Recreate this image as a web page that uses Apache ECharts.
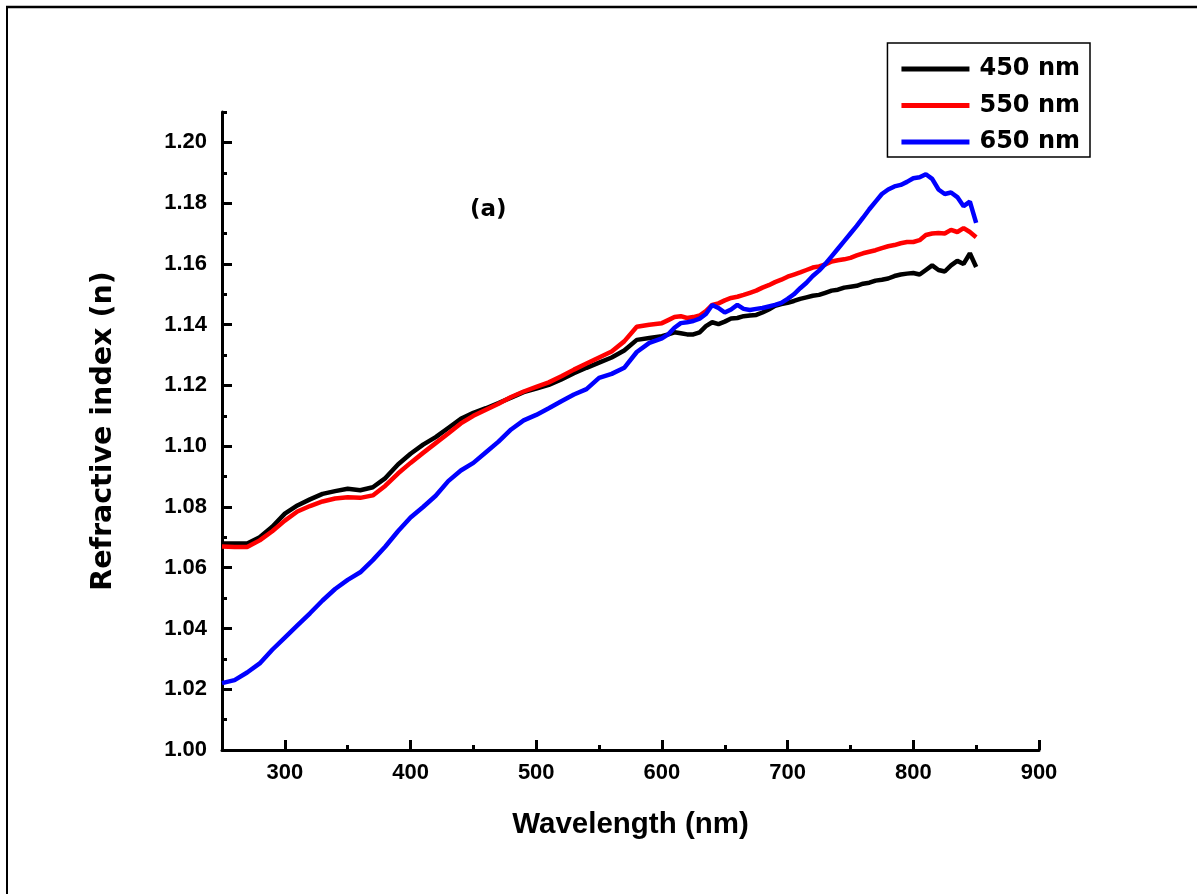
<!DOCTYPE html>
<html>
<head>
<meta charset="utf-8">
<script src="https://cdn.jsdelivr.net/npm/echarts@6/dist/echarts.min.js"></script>
<style>
  html, body { margin: 0; padding: 0; background: #fff; }
  #container { width: 1197px; height: 894px; }
</style>
</head>
<body>
<div id="container"></div>
<script>
// wavelength (nm): 10 nm steps up to 600, then 5 nm steps
var wavelength = [
  250, 260, 270, 280, 290, 300, 310, 320, 330, 340, 350, 360, 370, 380, 390, 400,
  410, 420, 430, 440, 450, 460, 470, 480, 490, 500, 510, 520, 530, 540, 550, 560,
  570, 580, 590, 600,
  605, 610, 615, 620, 625, 630, 635, 640, 645, 650, 655, 660, 665, 670, 675, 680,
  685, 690, 695, 700, 705, 710, 715, 720, 725, 730, 735, 740, 745, 750, 755, 760,
  765, 770, 775, 780, 785, 790, 795, 800, 805, 810, 815, 820, 825, 830, 835, 840,
  845, 850
];

var n450 = [
  1.0680, 1.0680, 1.0680, 1.0700, 1.0735, 1.0778, 1.0805, 1.0825, 1.0843, 1.0852,
  1.0860, 1.0855, 1.0865, 1.0895, 1.0940, 1.0975, 1.1005, 1.1030, 1.1060, 1.1090,
  1.1110, 1.1125, 1.1142, 1.1160, 1.1178, 1.1190, 1.1202, 1.1220, 1.1240, 1.1258,
  1.1275, 1.1292, 1.1315, 1.1350, 1.1356, 1.1362,
  1.1368, 1.1375, 1.1372, 1.1368, 1.1368, 1.1375, 1.1395, 1.1408, 1.1402, 1.1410,
  1.1420, 1.1422, 1.1428, 1.1430, 1.1432, 1.1440, 1.1450, 1.1462, 1.1468, 1.1472,
  1.1478, 1.1485, 1.1490, 1.1495, 1.1498, 1.1505, 1.1512, 1.1515, 1.1522, 1.1525,
  1.1528, 1.1535, 1.1538, 1.1545, 1.1548, 1.1552, 1.1560, 1.1565, 1.1568, 1.1570,
  1.1565, 1.1580, 1.1595, 1.1580, 1.1575, 1.1595, 1.1610, 1.1600, 1.1635, 1.1590
];

var n550 = [
  1.0670, 1.0668, 1.0668, 1.0690, 1.0720, 1.0755, 1.0785, 1.0803, 1.0818, 1.0828,
  1.0832, 1.0830, 1.0838, 1.0870, 1.0910, 1.0945, 1.0978, 1.1010, 1.1042, 1.1075,
  1.1100, 1.1120, 1.1140, 1.1162, 1.1180, 1.1195, 1.1210, 1.1230, 1.1252, 1.1272,
  1.1292, 1.1312, 1.1345, 1.1393, 1.1400, 1.1405,
  1.1415, 1.1425, 1.1428, 1.1422, 1.1425, 1.1430, 1.1445, 1.1465, 1.1470, 1.1480,
  1.1488, 1.1492, 1.1498, 1.1505, 1.1512, 1.1522, 1.1530, 1.1540, 1.1548, 1.1558,
  1.1565, 1.1572, 1.1580, 1.1588, 1.1592, 1.1598, 1.1608, 1.1612, 1.1615, 1.1620,
  1.1628, 1.1635, 1.1640, 1.1645, 1.1652, 1.1658, 1.1662, 1.1668, 1.1672, 1.1672,
  1.1678, 1.1695, 1.1700, 1.1702, 1.1700, 1.1712, 1.1705, 1.1718, 1.1705, 1.1688
];

var n650 = [
  1.0220, 1.0230, 1.0255, 1.0285, 1.0330, 1.0370, 1.0410, 1.0450, 1.0492, 1.0530,
  1.0560, 1.0585, 1.0625, 1.0670, 1.0720, 1.0765, 1.0800, 1.0837, 1.0885, 1.0920,
  1.0945, 1.0980, 1.1015, 1.1055, 1.1085, 1.1103, 1.1125, 1.1148, 1.1170, 1.1188,
  1.1225, 1.1238, 1.1258, 1.1310, 1.1340, 1.1355,
  1.1368, 1.1390, 1.1405, 1.1408, 1.1412, 1.1420, 1.1435, 1.1465, 1.1455, 1.1440,
  1.1450, 1.1465, 1.1452, 1.1448, 1.1452, 1.1455, 1.1460, 1.1465, 1.1472, 1.1485,
  1.1500, 1.1520, 1.1538, 1.1560, 1.1578, 1.1600, 1.1625, 1.1650, 1.1675, 1.1700,
  1.1725, 1.1752, 1.1780, 1.1805, 1.1830, 1.1845, 1.1855, 1.1860, 1.1870, 1.1882,
  1.1885, 1.1895, 1.1880, 1.1845, 1.1830, 1.1835, 1.1820, 1.1790, 1.1805, 1.1735
];

var seriesNames = ['450 nm', '550 nm', '650 nm'];
var seriesColors = ['#000000', '#ff0000', '#0000ff'];

var xMajorTicks = [300, 400, 500, 600, 700, 800, 900];
var xMinorTicks = [350, 450, 550, 650, 750, 850];
var yMajorTicks = [1.00, 1.02, 1.04, 1.06, 1.08, 1.10, 1.12, 1.14, 1.16, 1.18, 1.20];
var yMinorTicks = [1.01, 1.03, 1.05, 1.07, 1.09, 1.11, 1.13, 1.15, 1.17, 1.19, 1.21];

var FONT = "'Liberation Sans', Arial, sans-serif";
var WIDE = "'DejaVu Sans', sans-serif";

function toPairs(ys) {
    return wavelength.map(function (x, i) { return [x, ys[i]]; });
}

var dom = document.getElementById('container');
var myChart = echarts.init(dom, null, { renderer: 'canvas' });
var option;

var axisLine = { show: true, lineStyle: { color: '#000', width: 3 } };

option = {
    animation: false,
    backgroundColor: '#ffffff',
    grid: { left: 222, right: 158, top: 112, bottom: 144 },

    legend: {
        orient: 'vertical',
        right: 107,
        top: 43,
        data: seriesNames,
        icon: 'rect',
        itemWidth: 68,
        itemHeight: 5,
        itemGap: 12.5,
        padding: [14, 10, 3, 14],
        borderColor: '#000',
        borderWidth: 1.5,
        textStyle: {
            fontFamily: WIDE, fontWeight: 'bold', fontSize: 24, color: '#000',
            padding: [0, 0, 0, 5]
        }
    },

    xAxis: [
        {
            type: 'value', min: 250, max: 900,
            name: 'Wavelength (nm)', nameLocation: 'middle', nameGap: 60,
            nameTextStyle: { fontFamily: FONT, fontWeight: 'bold', fontSize: 29.5, color: '#000' },
            axisLine: axisLine,
            axisTick: { show: true, inside: true, length: 10, lineStyle: { width: 3, color: '#000' },
                customValues: xMajorTicks },
            axisLabel: { customValues: xMajorTicks, margin: 12,
                fontFamily: FONT, fontWeight: 'bold', fontSize: 22, color: '#000' },
            splitLine: { show: false }
        },
        {
            // minor ticks only
            type: 'value', min: 250, max: 900, position: 'bottom',
            axisLine: { show: false },
            axisTick: { show: true, inside: true, length: 5, lineStyle: { width: 3, color: '#000' },
                customValues: xMinorTicks },
            axisLabel: { show: false },
            splitLine: { show: false }
        }
    ],

    yAxis: [
        {
            type: 'value', min: 1.00, max: 1.21,
            name: 'Refractive index (n)', nameLocation: 'middle', nameGap: 104,
            nameTextStyle: { fontFamily: WIDE, fontWeight: 'bold', fontSize: 28.5, color: '#000' },
            axisLine: axisLine,
            axisTick: { show: true, inside: true, length: 10, lineStyle: { width: 3, color: '#000' },
                customValues: yMajorTicks },
            axisLabel: { customValues: yMajorTicks, margin: 15,
                formatter: function (v) { return v.toFixed(2); },
                fontFamily: FONT, fontWeight: 'bold', fontSize: 22, color: '#000' },
            splitLine: { show: false }
        },
        {
            type: 'value', min: 1.00, max: 1.21, position: 'left',
            axisLine: { show: false },
            axisTick: { show: true, inside: true, length: 5, lineStyle: { width: 3, color: '#000' },
                customValues: yMinorTicks },
            axisLabel: { show: false },
            splitLine: { show: false }
        }
    ],

    graphic: [
        // picture frame (top and left edges)
        { type: 'line', shape: { x1: 6, y1: 7, x2: 1197, y2: 7 }, style: { stroke: '#000', lineWidth: 2.5 } },
        { type: 'line', shape: { x1: 7, y1: 6, x2: 7, y2: 894 }, style: { stroke: '#000', lineWidth: 2 } },
        {
            type: 'text', left: 470, top: 199,
            style: { text: '(a)', fontFamily: WIDE, fontWeight: 'bold', fontSize: 23, fill: '#000' }
        }
    ],

    series: [n450, n550, n650].map(function (vals, i) {
        return {
            name: seriesNames[i],
            type: 'line',
            xAxisIndex: 0,
            yAxisIndex: 0,
            symbol: 'none',
            color: seriesColors[i],
            lineStyle: { width: 4.5, color: seriesColors[i] },
            data: toPairs(vals)
        };
    })
};

myChart.setOption(option);
window.addEventListener('resize', myChart.resize);
</script>
</body>
</html>
